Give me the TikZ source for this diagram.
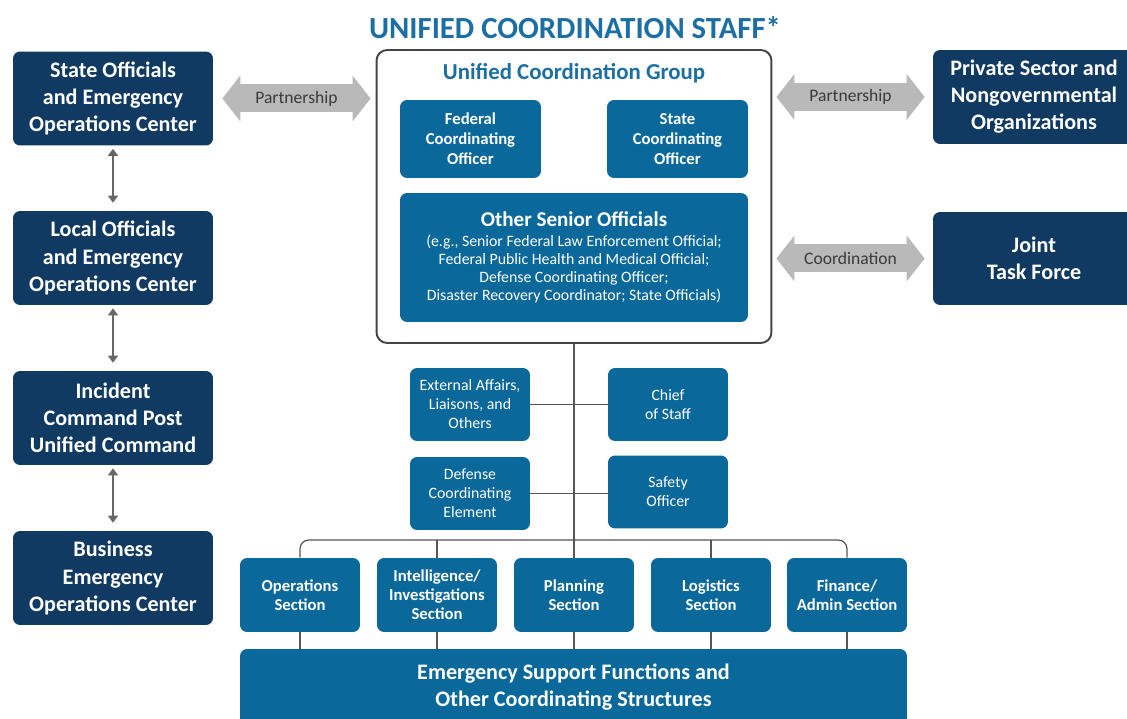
\documentclass[tikz,border=0pt]{standalone}
\usepackage{fontspec}
\setmainfont{Carlito}
\usetikzlibrary{arrows.meta, positioning, calc}

\definecolor{navy}{HTML}{103A62}
\definecolor{ucsblue}{HTML}{0A689B}
\definecolor{titleblue}{HTML}{1D6FA3}
\definecolor{arrowgray}{HTML}{B9B9B9}
\definecolor{labelgray}{HTML}{3A3A3A}
\definecolor{linegray}{HTML}{555555}

\begin{document}
\begin{tikzpicture}[x=0.02cm, y=-0.02cm,
    navybox/.style={rectangle, rounded corners=4pt, fill=navy, text=white, align=center, inner sep=0pt,
        font=\bfseries\fontsize{12.6}{15.4}\selectfont, minimum width=4cm, minimum height=1.88cm},
    bluebox/.style={rectangle, rounded corners=4pt, fill=ucsblue, text=white, align=center, inner sep=0pt},
    staffbox/.style={bluebox, minimum width=2.4cm, minimum height=1.46cm, font=\fontsize{9}{10.8}\selectfont},
    sectbox/.style={bluebox, minimum width=2.4cm, minimum height=1.48cm, font=\bfseries\fontsize{9.5}{10.8}\selectfont},
    partner/.style={draw=arrowgray, line width=0.56cm,
        {Triangle[width=0.9cm,length=0.36cm]}-{Triangle[width=0.9cm,length=0.36cm]}},
    partlabel/.style={text=labelgray, font=\fontsize{10}{12}\selectfont},
    vlink/.style={draw=linegray!90, line width=1.5pt, shorten <=0.06cm, shorten >=0.16cm,
        {Triangle[width=0.2cm,length=0.14cm]}-{Triangle[width=0.2cm,length=0.14cm]}},
    conn/.style={draw=linegray, line width=0.7pt}]
    \path[use as bounding box, clip] (0,0) rectangle (1127,719);

    % Title
    \node (title) at (575,28) [text=titleblue, font=\bfseries\fontsize{17.5}{20}\selectfont] {UNIFIED COORDINATION STAFF*};

    % Left column
    \node (state) at (113,98.5) [navybox] {State Officials\\and Emergency\\Operations Center};
    \node (local) at (113,258) [navybox] {Local Officials\\and Emergency\\Operations Center};
    \node (icp) at (113,418) [navybox] {Incident\\Command Post\\Unified Command};
    \node (beoc) at (113,578) [navybox] {Business\\Emergency\\Operations Center};

    % Unified Coordination Group
    \node (ucg) at (574,196.5) [rectangle, rounded corners=6pt, draw=linegray!80!black, line width=1.1pt, fill=white,
        minimum width=7.9cm, minimum height=5.86cm] {};
    \node (ucgtitle) at (574,73) [text=titleblue, font=\bfseries\fontsize{13}{15}\selectfont] {Unified Coordination Group};
    \node (fco) at (470.5,139) [bluebox, minimum width=2.82cm, minimum height=1.56cm, font=\bfseries\fontsize{9.5}{11.4}\selectfont] {Federal\\Coordinating\\Officer};
    \node (sco) at (677.5,139) [bluebox, minimum width=2.82cm, minimum height=1.56cm, font=\bfseries\fontsize{9.5}{11.4}\selectfont] {State\\Coordinating\\Officer};
    \node (oso) at (574,257.5) [bluebox, minimum width=6.96cm, minimum height=2.58cm, font=\fontsize{9}{10.2}\selectfont]
        {{\bfseries\fontsize{12}{13}\selectfont Other Senior Officials}\\[1pt]
         (e.g., Senior Federal Law Enforcement Official;\\
         Federal Public Health and Medical Official;\\
         Defense Coordinating Officer;\\
         Disaster Recovery Coordinator; State Officials)};

    % Right column
    \node (priv) at (1034,97) [navybox, minimum width=4.04cm] {Private Sector and\\Nongovernmental\\Organizations};
    \node (jtf) at (1034,258.5) [navybox, minimum width=4.04cm, minimum height=1.86cm] {Joint\\Task Force};

    % Command staff
    \node (ext) at (470,404.5) [staffbox] {External Affairs,\\Liaisons, and\\Others};
    \node (chief) at (668,404.5) [staffbox] {Chief\\of Staff};
    \node (dce) at (470,493.5) [staffbox] {Defense\\Coordinating\\Element};
    \node (safety) at (668,492) [staffbox] {Safety\\Officer};

    % Sections
    \node (ops) at (300,595) [sectbox] {Operations\\Section};
    \node (intel) at (437,595) [sectbox] {Intelligence/\\Investigations\\Section};
    \node (plan) at (574,595) [sectbox] {Planning\\Section};
    \node (logi) at (711,595) [sectbox] {Logistics\\Section};
    \node (fin) at (847,595) [sectbox] {Finance/\\Admin Section};
    \node (esf) at (573.5,687) [bluebox, minimum width=13.34cm, minimum height=1.52cm, font=\bfseries\fontsize{12.6}{15.4}\selectfont]
        {Emergency Support Functions and\\Other Coordinating Structures};
    \coordinate (bar) at (574,540);

    % Arrows
    \draw[vlink] (state) -- (local);
    \draw[vlink] (local) -- (icp);
    \draw[vlink] (icp) -- (beoc);
    \draw[partner] ([xshift=0.18cm]state.east) -- ([xshift=-0.1cm]state.east -| ucg.west)
        node[midway, partlabel] {Partnership};
    \draw[partner] ([xshift=0.08cm]priv.west -| ucg.east) -- ([xshift=-0.16cm]priv.west)
        node[midway, partlabel] {Partnership};
    \draw[partner] ([xshift=0.08cm]jtf.west -| ucg.east) -- ([xshift=-0.16cm]jtf.west)
        node[midway, partlabel] {Coordination};

    % Lines
    \draw[conn] (ucg.south) -- (plan.north);
    \draw[conn] (ext) -- (chief);
    \draw[conn] (dce) -- (dce -| safety.west);
    \draw[conn, rounded corners=5pt] (ops.north) -- (ops.north |- bar) -- (fin.north |- bar) -- (fin.north);
    \draw[conn] (intel.north |- bar) -- (intel.north);
    \draw[conn] (logi.north |- bar) -- (logi.north);
    \foreach \s in {ops, intel, plan, logi, fin}
        \draw[conn] (\s.south) -- (\s.south |- esf.north);
\end{tikzpicture}
\end{document}
